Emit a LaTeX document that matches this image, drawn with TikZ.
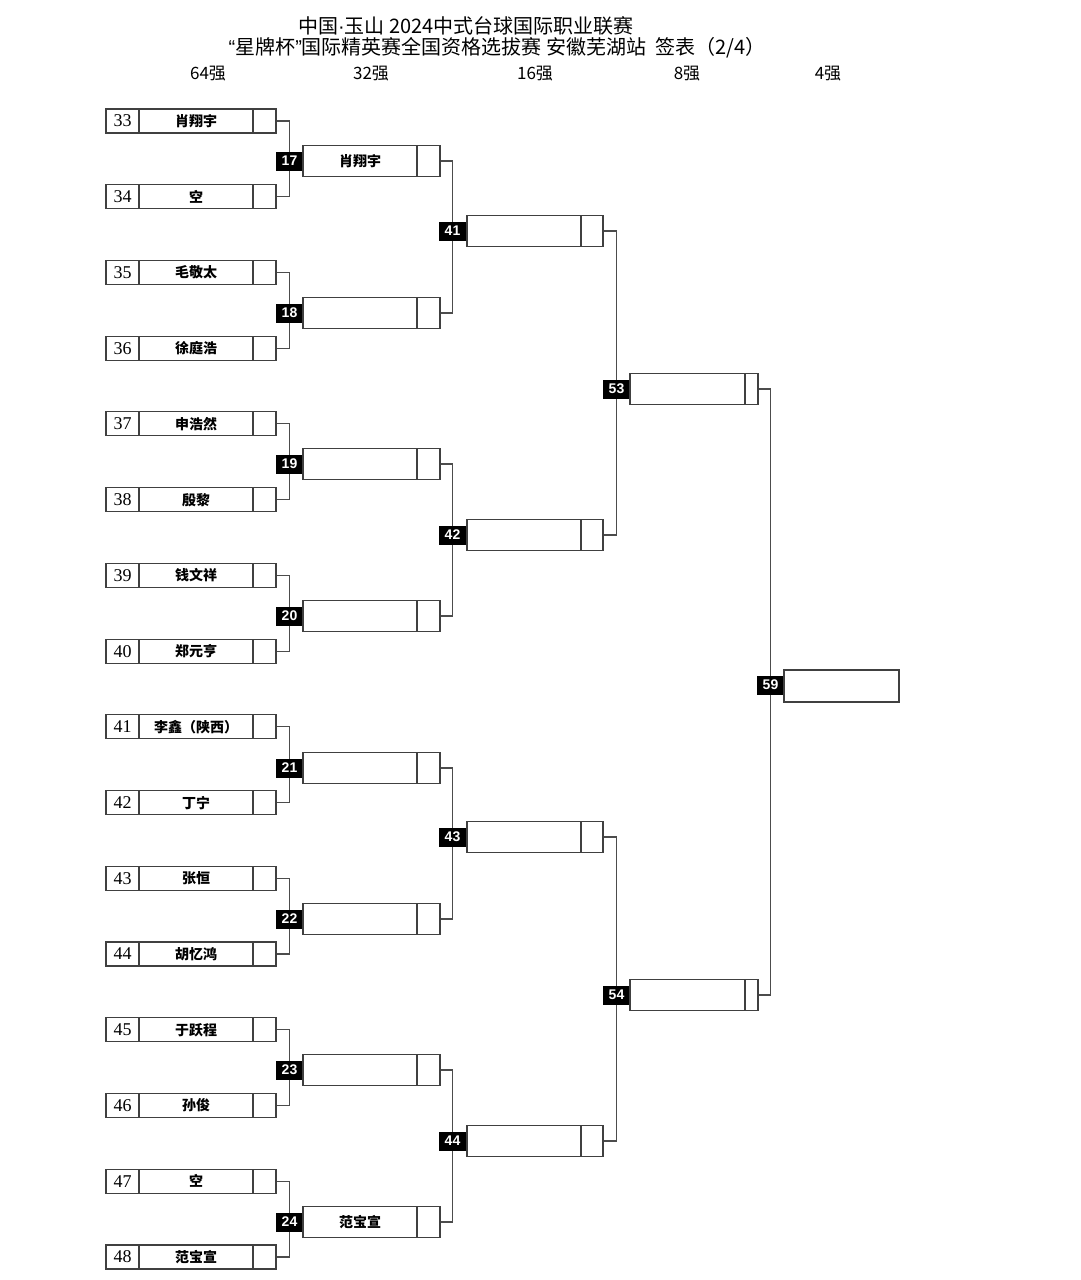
\documentclass[tikz,border=0pt]{standalone}
\usepackage{fontspec}
\setmainfont{Liberation Serif}
\newfontfamily\cjk{Noto Sans CJK SC}
\newfontfamily\labfont{Liberation Sans}
\usetikzlibrary{backgrounds}
\tikzset{
  cell/.style={draw=black!75, line width=1.1pt, inner sep=0pt, outer sep=0pt, minimum height=24pt},
  cellb/.style={cell, minimum height=31pt},
  numtxt/.style={font=\fontsize{18}{20}\selectfont},
  nametxt/.style={font=\cjk\bfseries\fontsize{14}{16}\selectfont},
  lbl/.style={fill=black, text=white, inner sep=0pt, minimum width=28pt, minimum height=19pt, font=\labfont\bfseries\fontsize{14}{16}\selectfont},
  conn/.style={draw=black!70, line width=1.1pt},
  title/.style={font=\cjk\fontsize{20}{22}\selectfont, inner sep=0pt},
  head/.style={font=\cjk\fontsize{17}{19}\selectfont, inner sep=0pt}
}
\begin{document}
\begin{tikzpicture}[x=1pt,y=-1pt]
\useasboundingbox (0,0) rectangle (1080,1280);
% titles
\node[title] (t1) at (466,26) {中国{\labfont ·}玉山 2024中式台球国际职业联赛};
\node[title] (t2) at (497,48) {{\labfont “}星牌杯{\labfont ”}国际精英赛全国资格选拔赛 安徽芜湖站\ \ 签表（2/4）};
\node[head] (h64) at (208,74) {64强};
\node[head] (h32) at (371,74) {32强};
\node[head] (h16) at (535,74) {16强};
\node[head] (h8) at (687,74) {8强};
\node[head] (h4) at (828,74) {4强};
% round of 64
\foreach \i/\y/\nm in {33/121/肖翔宇,34/196.7/空,35/272.5/毛敬太,36/348.2/徐庭浩,37/423.9/申浩然,38/499.7/殷黎,39/575.4/钱文祥,40/651.1/郑元亨,41/726.8/李鑫（陕西）,42/802.6/丁宁,43/878.3/张恒,44/954/胡忆鸿,45/1029.8/于跃程,46/1105.5/孙俊,47/1181.2/空,48/1257/范宝宣}{
  \node[cell, minimum width=33pt, numtxt] (pn\i) at (122.5,\y) {\i};
  \node[cell, minimum width=114pt, nametxt] (pt\i) at (196,\y) {\nm};
  \node[cell, minimum width=23pt] (pe\i) at (264.5,\y) {};
}
% round of 32
\foreach \m/\y/\nm in {17/161/肖翔宇,18/313/,19/464/,20/616/,21/768/,22/919/,23/1070/,24/1222/范宝宣}{
  \node[lbl] (m\m) at (289.5,\y) {\m};
  \node[cellb, minimum width=114pt, nametxt] (t\m) at (360,\y) {\nm};
  \node[cellb, minimum width=23pt] (e\m) at (428.5,\y) {};
}
% round of 16
\foreach \m/\y in {41/231,42/535,43/837,44/1141}{
  \node[lbl] (m\m) at (452.5,\y) {\m};
  \node[cellb, minimum width=114pt] (t\m) at (524,\y) {};
  \node[cellb, minimum width=22pt] (e\m) at (592,\y) {};
}
% quarter
\foreach \m/\y in {53/389,54/995}{
  \node[lbl] (m\m) at (616.5,\y) {\m};
  \node[cellb, minimum width=115pt] (t\m) at (687.5,\y) {};
  \node[cellb, minimum width=13pt] (e\m) at (751.5,\y) {};
}
% semi
\node[lbl] (m59) at (770.5,685) {59};
\node[cellb, minimum width=115pt, minimum height=32pt] (t59) at (841.5,686) {};
% connectors
\begin{scope}[on background layer]
\foreach \a/\b/\m in {33/34/17,35/36/18,37/38/19,39/40/20,41/42/21,43/44/22,45/46/23,47/48/24}{
  \draw[conn] (pe\a.east) -| (m\m.center) |- (pe\b.east);
}
\foreach \a/\b/\m in {17/18/41,19/20/42,21/22/43,23/24/44,41/42/53,43/44/54,53/54/59}{
  \draw[conn] (e\a.east) -| (m\m.center) |- (e\b.east);
}
\end{scope}
\end{tikzpicture}
\end{document}
